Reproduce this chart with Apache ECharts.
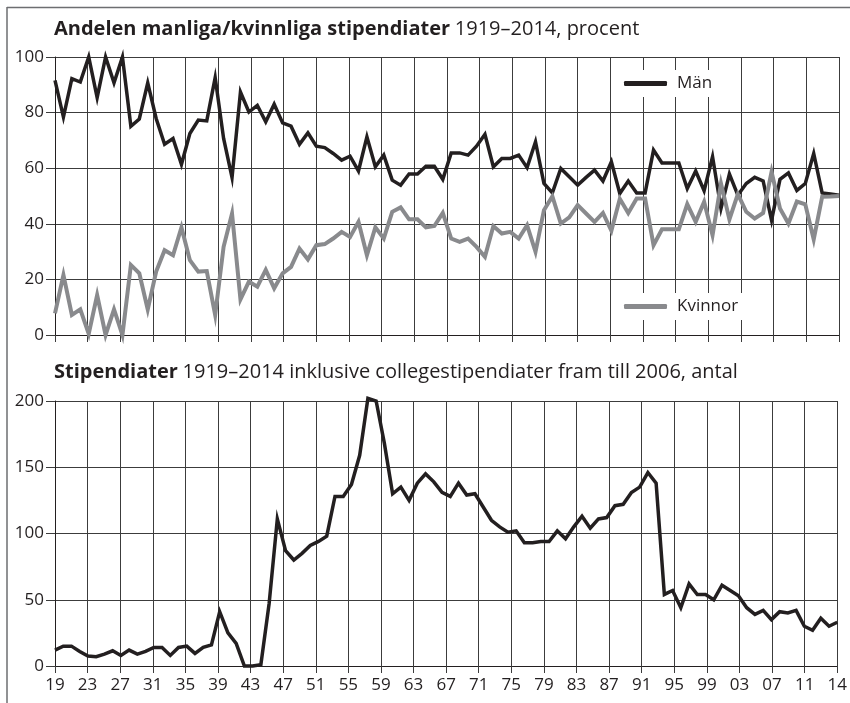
<!DOCTYPE html>
<html>
<head>
<meta charset="utf-8">
<script src="https://cdn.jsdelivr.net/npm/echarts@6.0.0/dist/echarts.min.js"></script>
<style>
  html, body { margin: 0; padding: 0; background: #fff; }
  #chart { width: 850px; height: 703px; }
</style>
</head>
<body>
<div id="chart"></div>
<script>
// tick labels of the year axis (one every 4 years, last one is 2014)
const xTickLabels = ['19', '23', '27', '31', '35', '39', '43', '47', '51', '55', '59', '63',
  '67', '71', '75', '79', '83', '87', '91', '95', '99', '03', '07', '11', '14'];

// years plotted in the share panel (no shares for the war years without stipendiater)
const shareYears = [
  1919, 1920, 1921, 1922, 1923, 1924, 1925, 1926, 1927, 1928, 1929, 1930, 1931, 1932, 1933,
  1934, 1935, 1936, 1937, 1938, 1939, 1940, 1941, 1944, 1945, 1946, 1947, 1948, 1949, 1950,
  1951, 1952, 1953, 1954, 1955, 1956, 1957, 1958, 1959, 1960, 1961, 1962, 1963, 1964, 1965,
  1966, 1967, 1968, 1969, 1970, 1971, 1972, 1973, 1974, 1975, 1976, 1977, 1978, 1979, 1980,
  1981, 1982, 1983, 1984, 1985, 1986, 1987, 1988, 1989, 1990, 1991, 1992, 1993, 1994, 1995,
  1996, 1997, 1998, 1999, 2000, 2001, 2002, 2003, 2004, 2005, 2006, 2007, 2008, 2009, 2010,
  2011, 2012, 2013, 2014];

// andel män, procent
const menShare = [
  91.6, 78.4, 92.2, 91, 100, 85.4, 100, 90.7, 100, 75.1,
  77.7, 90.7, 77.9, 68.6, 70.7, 61.4, 72.5, 77.3, 77, 92.6,
  70.7, 56.7, 87.4, 80.2, 82.6, 76.7, 83, 76.3, 75.1, 68.6,
  72.7, 67.9, 67.4, 65.3, 62.9, 64.3, 59, 71.3, 60.5, 64.7,
  55.7, 53.9, 57.9, 57.9, 60.7, 60.7, 56, 65.5, 65.5, 64.7,
  67.9, 72.2, 60.5, 63.5, 63.5, 64.7, 60.2, 69.5, 54.5, 51.1,
  59.9, 56.9, 53.9, 56.7, 59.3, 55.4, 62.3, 50.9, 55.4, 51.1,
  51.1, 66.5, 61.9, 61.9, 61.9, 52.7, 59, 51.9, 64.1, 45.5,
  57.9, 50.3, 54.5, 56.7, 55.4, 41.3, 56, 58.3, 52, 54.5,
  65.3, 51.1, 50.7, 50.3];

// andel kvinnor, procent
const womenShare = [
  7.8, 21.6, 7.2, 9.2, 0.4, 14.4, 0, 9.2, 0, 25.2,
  22.2, 9.2, 22.8, 30.5, 28.7, 38.7, 26.9, 22.8, 23, 7.2,
  31.7, 43.7, 12.8, 19.2, 17.4, 23.4, 16.8, 22.2, 24.5, 31.1,
  27.2, 32.3, 32.7, 34.7, 37.1, 35.3, 40.7, 28.7, 38.7, 34.7,
  44.3, 45.9, 41.6, 41.6, 38.7, 39.2, 43.9, 34.7, 33.5, 34.7,
  31.7, 28.1, 39.2, 36.5, 37.1, 34.7, 39.5, 29.9, 44.9, 49.9,
  40.1, 42.3, 46.7, 43.7, 40.7, 43.9, 37.5, 49, 43.9, 49.1,
  49.1, 32.3, 38, 38, 38, 47.1, 40.7, 47.9, 35.9, 54.5,
  41.6, 50.7, 44.3, 41.9, 43.9, 58.7, 45.5, 40.1, 48, 47,
  34.4, 49.7, 49.8, 50];

// years of the count panel
const countYears = [
  1919, 1920, 1921, 1922, 1923, 1924, 1925, 1926, 1927, 1928, 1929, 1930, 1931, 1932, 1933,
  1934, 1935, 1936, 1937, 1938, 1939, 1940, 1941, 1942, 1943, 1944, 1945, 1946, 1947, 1948,
  1949, 1950, 1951, 1952, 1953, 1954, 1955, 1956, 1957, 1958, 1959, 1960, 1961, 1962, 1963,
  1964, 1965, 1966, 1967, 1968, 1969, 1970, 1971, 1972, 1973, 1974, 1975, 1976, 1977, 1978,
  1979, 1980, 1981, 1982, 1983, 1984, 1985, 1986, 1987, 1988, 1989, 1990, 1991, 1992, 1993,
  1994, 1995, 1996, 1997, 1998, 1999, 2000, 2001, 2002, 2003, 2004, 2005, 2006, 2007, 2008,
  2009, 2010, 2011, 2012, 2013, 2014];

// antal stipendiater
const stipendCount = [
  12, 15, 15, 11, 7.5, 7, 9, 11.5, 8, 12,
  9, 11, 14, 14, 8, 14, 15, 9.5, 14, 16,
  41, 25, 17, 0, 0, 1, 47, 111, 87, 80,
  85, 91, 94, 98, 128, 128, 137, 159, 202, 200,
  168, 130, 135, 125, 138, 145, 139, 131, 128, 138,
  129, 130, 120, 110, 105, 101, 102, 93, 93, 94,
  94, 102, 96, 105, 113, 104, 111, 112, 121, 122,
  131, 135, 146, 138, 54, 57, 44, 62, 54, 54,
  50, 61, 57, 53, 44, 39, 42, 35, 41, 40,
  42, 30, 27, 36, 30, 33];

const FONT = '"Open Sans", "Noto Sans", sans-serif';
const INK = '#231f20';
const GRIDLINE = '#3c3c3c';
const WOMEN = '#898a8d';

const chart = echarts.init(document.getElementById('chart'), null, { renderer: 'canvas' });

// visible year axis: years since 1919, one tick every 4 years
function yearAxis(gridIndex, withLabels) {
  return {
    gridIndex,
    type: 'value',
    min: 0,
    max: 96,
    interval: 4,
    axisLine: { show: true, onZero: false, lineStyle: { color: INK, width: 1 } },
    axisTick: { show: true, length: 7, lineStyle: { color: GRIDLINE, width: 1 } },
    axisLabel: {
      show: withLabels,
      formatter: (v) => xTickLabels[Math.round(v / 4)],
      fontFamily: FONT,
      fontSize: 17,
      color: INK,
      margin: 11,
      showMinLabel: true,
      showMaxLabel: true,
    },
    splitLine: { show: true, lineStyle: { color: GRIDLINE, width: 1 } },
  };
}

function valueAxis(gridIndex, max, interval) {
  return {
    gridIndex,
    type: 'value',
    min: 0,
    max,
    interval,
    axisLine: { show: true, onZero: false, lineStyle: { color: INK, width: 1 } },
    axisTick: { show: true, length: 9, lineStyle: { color: GRIDLINE, width: 1 } },
    axisLabel: { fontFamily: FONT, fontSize: 17, color: INK, margin: 11 },
    splitLine: { show: true, lineStyle: { color: GRIDLINE, width: 1 } },
  };
}

const titleRich = {
  b: { fontFamily: FONT, fontSize: 20, fontWeight: 'bold', color: INK, lineHeight: 24 },
  r: { fontFamily: FONT, fontSize: 20, fontWeight: 'normal', color: INK, lineHeight: 24 },
};

const legendBase = {
  left: 619,
  orient: 'horizontal',
  backgroundColor: '#fff',
  padding: [5, 6, 5, 5],
  icon: 'roundRect',
  itemWidth: 43,
  itemHeight: 5,
  selectedMode: false,
  textStyle: { fontFamily: FONT, fontSize: 17, color: INK, padding: [0, 0, 0, 5] },
};

const option = {
  animation: false,
  backgroundColor: '#fff',
  textStyle: { fontFamily: FONT },
  title: [
    {
      text: '{b|Andelen manliga/kvinnliga stipendiater} {r|1919–2014, procent}',
      left: 54, top: 17, padding: 0,
      textStyle: { rich: titleRich },
    },
    {
      text: '{b|Stipendiater} {r|1919–2014 inklusive collegestipendiater fram till 2006, antal}',
      left: 54, top: 360, padding: 0,
      textStyle: { rich: titleRich },
    },
  ],
  legend: [
    Object.assign({}, legendBase, { data: ['Män'], top: 70 }),
    Object.assign({}, legendBase, { data: ['Kvinnor'], top: 293 }),
  ],
  grid: [
    { left: 55, right: 11, top: 57, height: 278 },
    { left: 55, right: 11, top: 401, height: 265 },
  ],
  xAxis: [
    yearAxis(0, false),
    { gridIndex: 0, type: 'category', data: shareYears, boundaryGap: false, show: false },
    yearAxis(1, true),
    { gridIndex: 1, type: 'category', data: countYears, boundaryGap: false, show: false },
  ],
  yAxis: [
    valueAxis(0, 100, 20),
    valueAxis(1, 200, 50),
  ],
  series: [
    {
      name: 'Män',
      type: 'line',
      xAxisIndex: 1,
      yAxisIndex: 0,
      data: menShare,
      symbol: 'none',
      clip: false,
      itemStyle: { color: INK },
      lineStyle: { color: INK, width: 3.5, join: 'miter' },
    },
    {
      name: 'Kvinnor',
      type: 'line',
      xAxisIndex: 1,
      yAxisIndex: 0,
      data: womenShare,
      symbol: 'none',
      clip: false,
      itemStyle: { color: WOMEN },
      lineStyle: { color: WOMEN, width: 4, join: 'miter' },
    },
    {
      name: 'Stipendiater',
      type: 'line',
      xAxisIndex: 3,
      yAxisIndex: 1,
      data: stipendCount,
      symbol: 'none',
      clip: false,
      itemStyle: { color: INK },
      lineStyle: { color: INK, width: 3.5, join: 'miter' },
    },
  ],
  graphic: [
    // frame of the figure (top and left edges)
    { type: 'line', silent: true, shape: { x1: 7, y1: 7.5, x2: 850, y2: 7.5 }, style: { stroke: '#6d6e71', lineWidth: 1.5 } },
    { type: 'line', silent: true, shape: { x1: 7, y1: 7, x2: 7, y2: 703 }, style: { stroke: '#6d6e71', lineWidth: 1.5 } },
  ],
};

chart.setOption(option);
</script>
</body>
</html>
